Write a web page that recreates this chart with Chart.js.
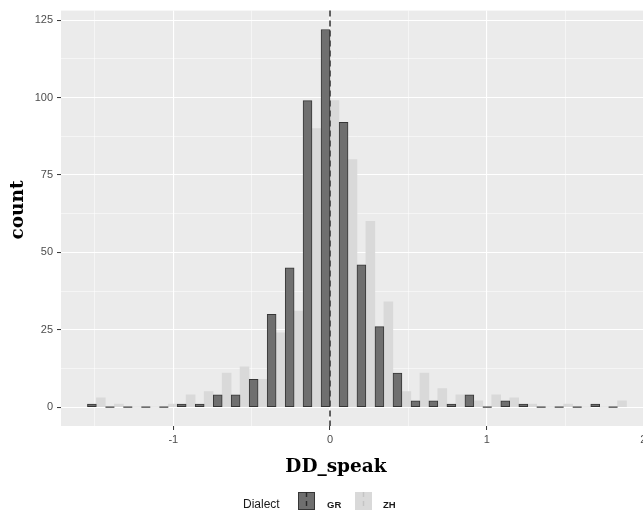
<!DOCTYPE html>
<html>
<head>
<meta charset="utf-8">
<script src="https://cdn.jsdelivr.net/npm/chart.js@4.4.1/dist/chart.umd.min.js"></script>
<style>
html, body { margin: 0; padding: 0; background: #fff; }
#wrap { width: 643px; height: 514px; overflow: hidden; }
</style>
</head>
<body>
<div id="wrap"><canvas id="chart" width="654" height="514"></canvas></div>
<script>
// histogram bins (centres of 30 bins) and counts per dialect
const binCenters = [-1.491, -1.376, -1.262, -1.147, -1.032, -0.918, -0.803, -0.688, -0.574, -0.459,
                    -0.344, -0.229, -0.115, 0, 0.115, 0.229, 0.344, 0.459, 0.574, 0.688,
                    0.803, 0.918, 1.032, 1.147, 1.262, 1.376, 1.491, 1.606, 1.721, 1.835];
const grCounts = [1, 0, 0, 0, 0, 1, 1, 4, 4, 9, 30, 45, 99, 122, 92, 46, 26, 11, 2, 2,
                  1, 4, 0, 2, 1, 0, 0, 0, 1, 0];
const zhCounts = [3, 1, 0, 0, 1, 4, 5, 11, 13, 9, 24, 31, 90, 99, 80, 60, 34, 5, 11, 6,
                  4, 2, 4, 3, 1, 0, 1, 0, 0, 2];
const yTicks = [0, 25, 50, 75, 100, 125];
const xTicks = [-1, 0, 1, 2];
const vlineAt = 0;
const seriesNames = ['GR', 'ZH'];
const legendTitle = 'Dialect';
const xTitle = 'DD_speak';
const yTitle = 'count';

const GR_FILL = '#6f6f6f';
const GR_EDGE = '#363636';
const ZH_FILL = '#d9d9d9';
const TICK_TXT = '#4d4d4d';

const panelBg = {
    id: 'panelBg',
    beforeDraw(chart) {
        const { ctx, chartArea: a } = chart;
        ctx.save();
        ctx.fillStyle = '#ebebeb';
        ctx.fillRect(a.left, a.top, a.right - a.left, a.bottom - a.top);
        ctx.restore();
    }
};

// empty GR bins still show their outline as a flat line (like ggplot)
const emptyBins = {
    id: 'emptyBins',
    afterDatasetsDraw(chart) {
        const { ctx } = chart;
        const meta = chart.getDatasetMeta(0);
        const y0 = chart.scales.y.getPixelForValue(0);
        ctx.save();
        ctx.strokeStyle = GR_EDGE;
        ctx.lineWidth = 1.2;
        meta.data.forEach((bar, i) => {
            if (grCounts[i] !== 0) return;
            ctx.beginPath();
            ctx.moveTo(bar.x - bar.width / 2, y0);
            ctx.lineTo(bar.x + bar.width / 2, y0);
            ctx.stroke();
        });
        ctx.restore();
    }
};

const vline = {
    id: 'vline',
    afterDatasetsDraw(chart) {
        const { ctx, chartArea: a } = chart;
        const x = chart.scales.x.getPixelForValue(vlineAt);
        ctx.save();
        ctx.strokeStyle = '#3c3c3c';
        ctx.lineWidth = 1.6;
        ctx.setLineDash([6, 4]);
        ctx.beginPath();
        ctx.moveTo(x, a.top);
        ctx.lineTo(x, a.bottom);
        ctx.stroke();
        ctx.restore();
    }
};

// axis titles + bottom legend, ggplot style
const decorations = {
    id: 'decorations',
    afterDraw(chart) {
        const { ctx } = chart;
        ctx.save();
        ctx.fillStyle = '#000';
        ctx.font = 'bold 18.5px "DejaVu Serif"';
        ctx.textAlign = 'center';
        ctx.textBaseline = 'alphabetic';
        ctx.fillText(xTitle, 336, 472);

        ctx.translate(23, 210);
        ctx.rotate(-Math.PI / 2);
        ctx.fillText(yTitle, 0, 0);
        ctx.setTransform(1, 0, 0, 1, 0, 0);

        // legend
        ctx.textAlign = 'left';
        ctx.textBaseline = 'middle';
        ctx.fillStyle = '#1a1a1a';
        ctx.font = '12px "Liberation Sans"';
        ctx.fillText(legendTitle, 243, 505);

        const keys = [
            { x: 298, fill: GR_FILL, edge: GR_EDGE, line: '#2a2a2a', label: seriesNames[0], tx: 327 },
            { x: 355, fill: ZH_FILL, edge: ZH_FILL, line: '#c4c4c4', label: seriesNames[1], tx: 383 }
        ];
        keys.forEach(k => {
            ctx.fillStyle = k.fill;
            ctx.fillRect(k.x, 492, 17, 18);
            ctx.strokeStyle = k.edge;
            ctx.lineWidth = 1;
            ctx.strokeRect(k.x + 0.5, 492.5, 16, 17);
            ctx.strokeStyle = k.line;
            ctx.lineWidth = 1.4;
            ctx.setLineDash([5, 4]);
            ctx.beginPath();
            ctx.moveTo(k.x + 8.5, 492);
            ctx.lineTo(k.x + 8.5, 510);
            ctx.stroke();
            ctx.setLineDash([]);
            ctx.fillStyle = '#1a1a1a';
            ctx.font = 'bold 9.5px "Liberation Sans"';
            ctx.fillText(k.label, k.tx, 505);
        });
        ctx.restore();
    }
};

const gridWidth = (majors) => (c) => (c.tick && majors.includes(c.tick.value) ? 1.1 : 0.5);
const tickColor = (majors) => (c) => (c.tick && majors.includes(c.tick.value) ? '#333' : 'rgba(0,0,0,0)');

new Chart(document.getElementById('chart'), {
    type: 'bar',
    data: {
        labels: binCenters,
        datasets: [
            {
                label: seriesNames[0],
                data: grCounts,
                backgroundColor: GR_FILL,
                borderColor: GR_EDGE,
                borderWidth: 1,
                borderSkipped: false,
                categoryPercentage: 1,
                barPercentage: 1
            },
            {
                label: seriesNames[1],
                data: zhCounts,
                backgroundColor: ZH_FILL,
                borderWidth: 0,
                categoryPercentage: 1,
                barPercentage: 1
            }
        ]
    },
    options: {
        responsive: false,
        animation: false,
        layout: { padding: { top: 10, left: 0, right: 0, bottom: 0 } },
        plugins: {
            legend: { display: false },
            tooltip: { enabled: false }
        },
        scales: {
            x: {
                type: 'linear',
                min: -1.7167,
                max: 2.0676,
                offset: false,
                afterFit: s => { s.height = 88; },
                border: { display: false },
                grid: {
                    offset: false,
                    color: '#ffffff',
                    lineWidth: gridWidth(xTicks),
                    tickColor: tickColor(xTicks),
                    tickWidth: 1,
                    tickLength: 4
                },
                ticks: {
                    stepSize: 0.5,
                    includeBounds: false,
                    autoSkip: false,
                    maxRotation: 0,
                    padding: 3,
                    color: TICK_TXT,
                    font: { family: 'Liberation Sans', size: 11 },
                    callback: v => (xTicks.includes(v) ? String(v) : '')
                }
            },
            y: {
                min: -6.1,
                max: 128.1,
                afterFit: s => { s.width = 61; },
                border: { display: false },
                grid: {
                    color: '#ffffff',
                    lineWidth: gridWidth(yTicks),
                    tickColor: tickColor(yTicks),
                    tickWidth: 1,
                    tickLength: 4
                },
                ticks: {
                    stepSize: 12.5,
                    includeBounds: false,
                    autoSkip: false,
                    padding: 4,
                    color: TICK_TXT,
                    font: { family: 'Liberation Sans', size: 11 },
                    callback: v => (yTicks.includes(v) ? String(v) : '')
                }
            }
        }
    },
    plugins: [panelBg, emptyBins, vline, decorations]
});
</script>
</body>
</html>
